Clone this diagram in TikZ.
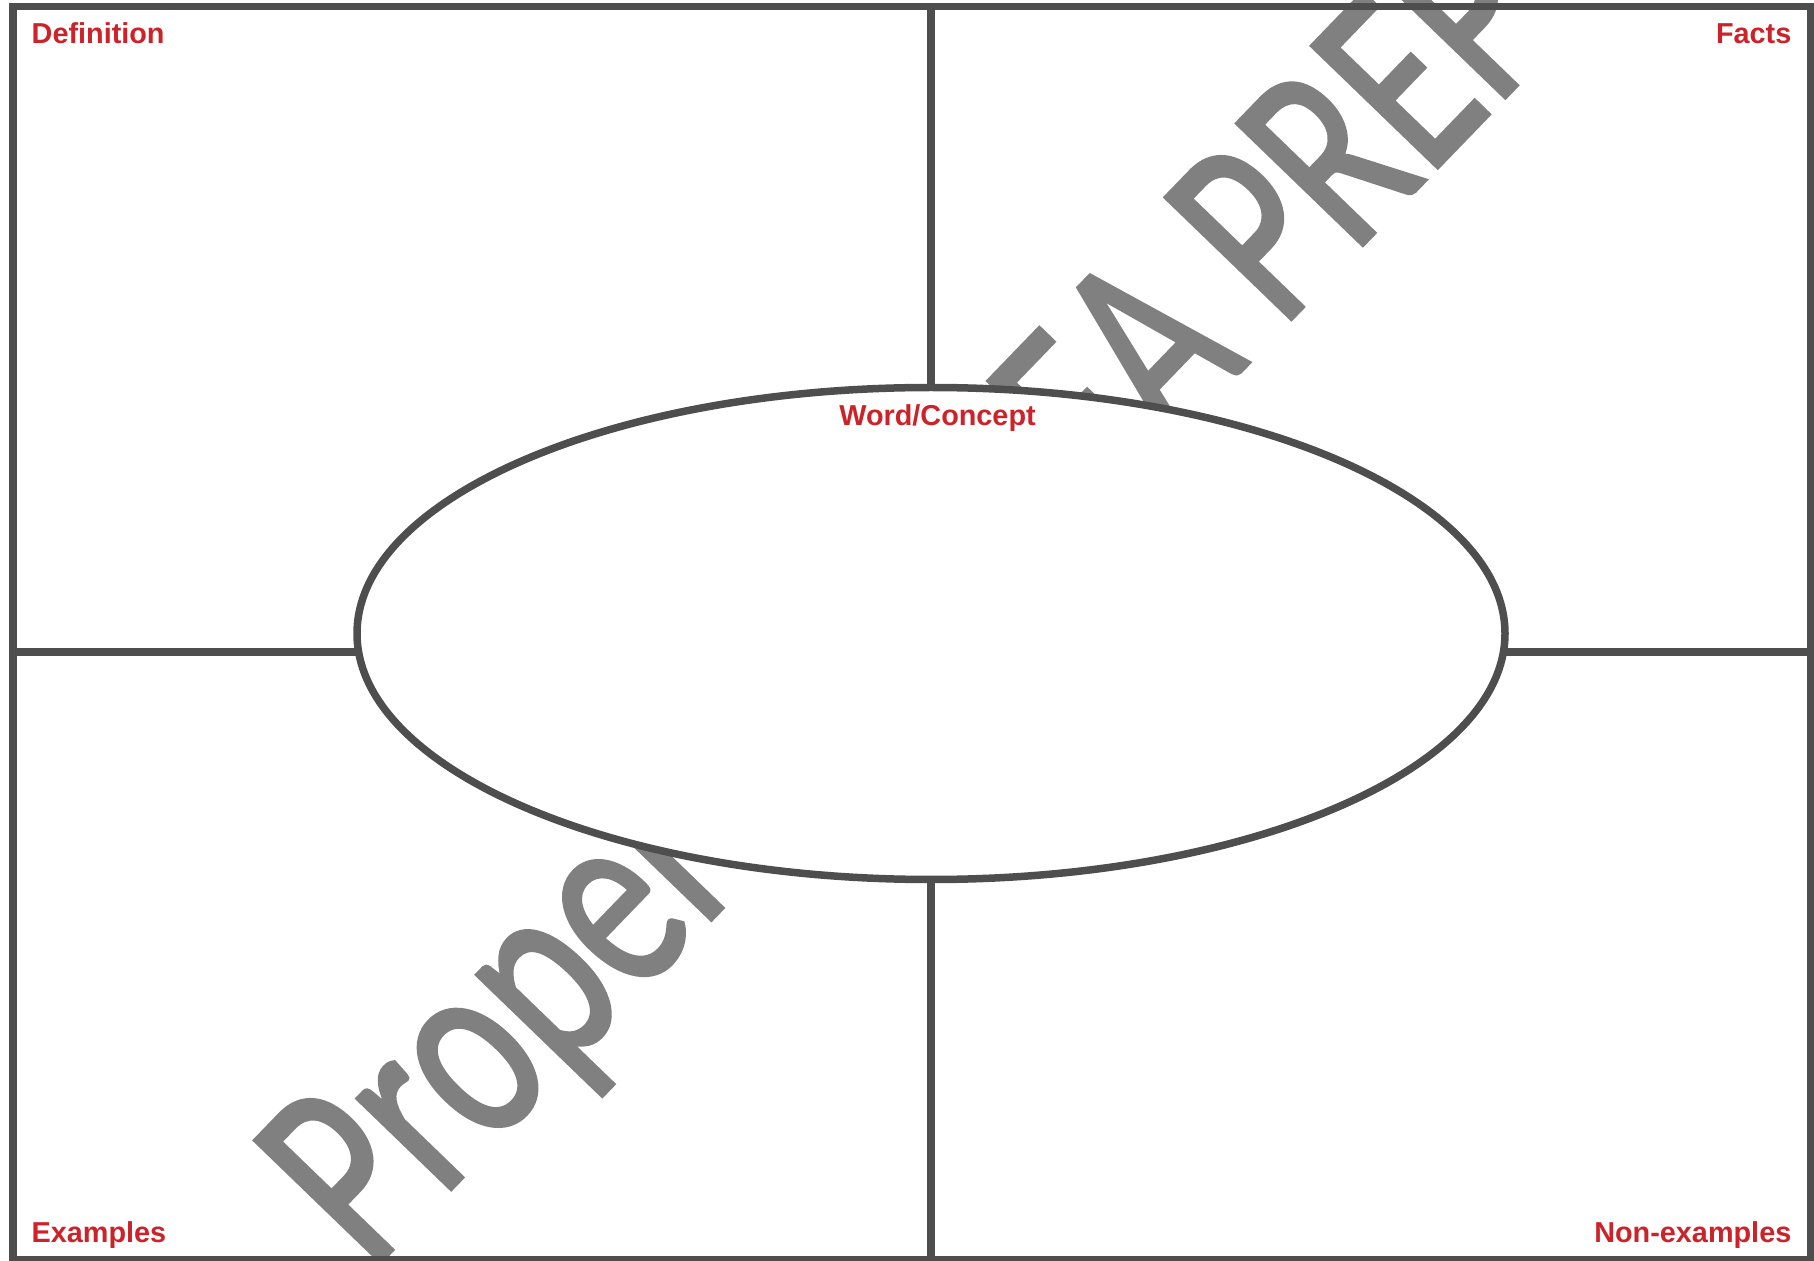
\documentclass[tikz,border=0pt]{standalone}
\usepackage{fontspec}
\setmainfont{Liberation Sans}
\newfontfamily\wmfont[FakeBold=1.5]{Carlito}
\usetikzlibrary{shapes.geometric, positioning}
\definecolor{framegray}{RGB}{78,78,78}
\definecolor{labelred}{RGB}{204,34,41}
\definecolor{wmgray}{RGB}{128,128,128}

\begin{document}
\begin{tikzpicture}[
		x=0.1mm, y=-0.1mm,
		% Traits du cadre et des séparations
		grid/.style={
			draw=framegray,
			line width=0.75mm
		},
		% Titres des quatre cases
		cornerlabel/.style={
			text=labelred,
			font=\fontsize{8.2}{10}\selectfont\bfseries,
			inner sep=0pt
		},
		% Filigrane en arrière-plan
		watermark/.style={
			text=wmgray,
			font=\wmfont\fontsize{56.6}{60}\selectfont,
			rotate=46,
			anchor=base west,
			inner sep=0pt
		}
		]
		\useasboundingbox (0,0) rectangle (1814,1261);
		
		% --- FILIGRANE ---
		\begin{scope}
			\clip (0,0) rectangle (1814,1261);
			\node[watermark] (wm) at (370,1273) {\scalebox{1}[1.37]{Property of TEA PREP}};
		\end{scope}
		
		% --- CADRE ET CROIX ---
		\coordinate (W) at (13,652);
		\coordinate (E) at (1810.5,652);
		\coordinate (N) at (931,6.7);
		\coordinate (S) at (931,1259.5);
		\draw[grid] (13,6.7) rectangle (1810.5,1259.5);
		\draw[grid] (W) -- (E);
		\draw[grid] (N) -- (S);
		
		% --- ELLIPSE CENTRALE ---
		\node[ellipse, grid, fill=white, minimum width=114.8mm, minimum height=49.2mm,
			inner sep=0pt, outer sep=0pt] (concept) at (931,633.5) {};
		\node[cornerlabel, anchor=base] (word) at ([xshift=0.65mm, yshift=-3.85mm]concept.north) {Word/Concept};
		
		% --- TITRES DES CASES ---
		\coordinate (L) at (31,0);
		\coordinate (R) at (1792,0);
		\coordinate (T) at (0,44);
		\coordinate (B) at (0,1242.7);
		\node[cornerlabel, anchor=base west] (def) at (L |- T) {Definition};
		\node[cornerlabel, anchor=base east] (facts) at (R |- T) {Facts};
		\node[cornerlabel, anchor=base west] (ex) at (L |- B) {Examples};
		\node[cornerlabel, anchor=base east] (nonex) at (R |- B) {Non-examples};
		
	\end{tikzpicture}
\end{document}
